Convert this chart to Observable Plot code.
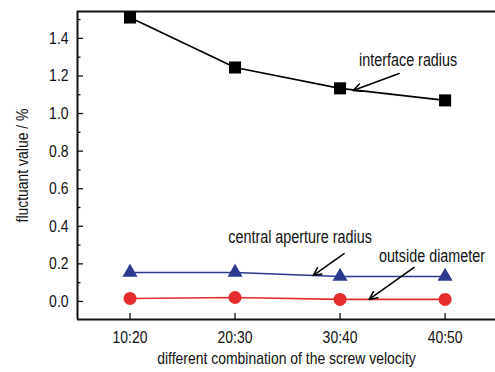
<!DOCTYPE html>
<html><head><meta charset="utf-8">
<script src="https://cdn.jsdelivr.net/npm/d3@7"></script>
<script src="https://cdn.jsdelivr.net/npm/@observablehq/plot@0.6"></script>
<style>body{margin:0;background:#fff}</style>
</head><body><div id="chart"></div>
<script>
const categories = ["10:20", "20:30", "30:40", "40:50"];
const interfaceRadius = [1.511, 1.245, 1.134, 1.070];
const centralAperture = [0.154, 0.154, 0.133, 0.133];
const outsideDiameter = [0.016, 0.021, 0.011, 0.011];
const yMajorTicks = [0, 0.2, 0.4, 0.6, 0.8, 1.0, 1.2, 1.4];
const yMinorTicks = [0.1, 0.3, 0.5, 0.7, 0.9, 1.1, 1.3, 1.5];
const annotations = [
  {text: "interface radius", x: 2.648, y: 1.283, x1: 2.562, y1: 1.213, x2: 2.124, y2: 1.123},
  {text: "central aperture radius", x: 1.619, y: 0.341, x1: 2.038, y1: 0.255, x2: 1.743, y2: 0.138},
  {text: "outside diameter", x: 2.875, y: 0.240, x1: 2.705, y1: 0.181, x2: 2.276, y2: 0.011}
];

const idx = categories.map((c, i) => i);
const xmin = -0.5, xmax = 3.48, ymin = -0.096, ymax = 1.543;
const pxX = 105, pxY = 187.9;
const font = "'Liberation Sans', Arial, sans-serif";

const series = (vals) => idx.map(i => ({x: i, y: vals[i]}));

const plot = Plot.plot({
  width: 495, height: 372,
  marginLeft: 77, marginTop: 11, marginBottom: 53, marginRight: 0,
  style: {fontFamily: font, fontSize: "17px", color: "#111", background: "#fff"},
  x: {domain: [xmin, xmax]},
  y: {domain: [ymin, ymax]},
  marks: [
    Plot.axisY(yMajorTicks, {tickSize: 0, tickPadding: 9, tickFormat: d => d.toFixed(1), label: null, fontSize: 17}),
    Plot.axisX(idx, {tickSize: 0, tickPadding: 11, tickFormat: i => categories[i], label: null, fontSize: 17}),
    Plot.ruleY(yMajorTicks, {y: d => d, x1: xmin, x2: xmin + 6 / pxX, stroke: "#111", strokeWidth: 1.3}),
    Plot.ruleY(yMinorTicks, {y: d => d, x1: xmin, x2: xmin + 3.5 / pxX, stroke: "#111", strokeWidth: 1.3}),
    Plot.ruleX(idx, {x: d => d, y1: ymin, y2: ymin + 6 / pxY, stroke: "#111", strokeWidth: 1.3}),
    Plot.ruleY([ymin, ymax], {stroke: "#111", strokeWidth: 2}),
    Plot.ruleX([xmin], {stroke: "#111", strokeWidth: 2}),
    Plot.line(series(interfaceRadius), {x: "x", y: "y", stroke: "#000", strokeWidth: 1.6}),
    Plot.line(series(centralAperture), {x: "x", y: "y", stroke: "#2b3a8e", strokeWidth: 1.6}),
    Plot.line(series(outsideDiameter), {x: "x", y: "y", stroke: "#e52d2d", strokeWidth: 1.6}),
    Plot.dot(series(interfaceRadius), {x: "x", y: "y", symbol: "square", r: 6.8, fill: "#000", stroke: "none"}),
    Plot.dot(series(centralAperture), {x: "x", y: "y", symbol: "triangle", r: 5.6, fill: "#2b3a8e", stroke: "none"}),
    Plot.dot(series(outsideDiameter), {x: "x", y: "y", symbol: "circle", r: 6.5, fill: "#e52d2d", stroke: "none"}),
    Plot.arrow(annotations, {x1: "x1", y1: "y1", x2: "x2", y2: "y2", stroke: "#000", strokeWidth: 1.5, headLength: 9, headAngle: 50}),
    Plot.text(annotations, {x: "x", y: "y", text: "text", fontSize: 17.5, fill: "#111"}),
    Plot.text(["fluctuant value / %"], {frameAnchor: "left", textAnchor: "middle", dx: -55, rotate: -90, fontSize: 17, fill: "#111"}),
    Plot.text(["different combination of the screw velocity"], {frameAnchor: "bottom", dy: 44, fontSize: 17, fill: "#111"})
  ]
});
document.getElementById("chart").appendChild(plot);
// condensed look, like the narrow face of the reference
d3.select(plot).selectAll("text").each(function() {
  const targets = this.querySelector("tspan") ? Array.from(this.querySelectorAll("tspan")) : [this];
  for (const t of targets) {
    const len = t.getComputedTextLength();
    if (len > 0) {
      t.setAttribute("textLength", (len * 0.82).toFixed(2));
      t.setAttribute("lengthAdjust", "spacingAndGlyphs");
    }
  }
});
</script>
</body></html>
